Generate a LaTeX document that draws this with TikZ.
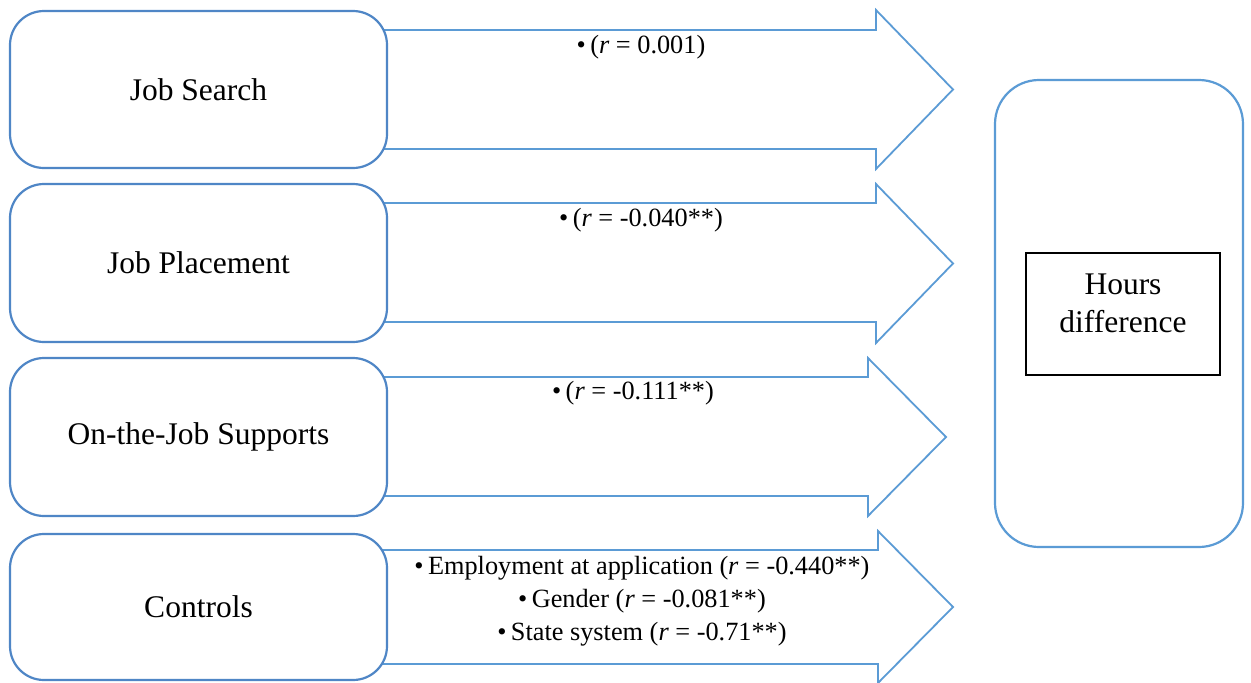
\documentclass[tikz,border=0pt]{standalone}
\usepackage{fontspec}
\setmainfont{Liberation Serif}
\definecolor{boxblue}{HTML}{4F86C6}
\definecolor{arrowblue}{HTML}{5B9BD5}
\tikzset{
  leftbox/.style={draw=boxblue, line width=2.2pt, fill=white, rounded corners=34pt,
    minimum width=377pt, inner sep=0pt, font=\fontsize{31.5}{36}\selectfont},
  blockarrow/.style={draw=arrowblue, line width=1.8pt, fill=white, line join=miter},
  arrowtext/.style={font=\fontsize{26.3}{33}\selectfont, align=center, inner sep=0pt},
  outcome/.style={draw=arrowblue, line width=2.2pt, fill=white, rounded corners=44pt,
    minimum width=248pt, minimum height=467pt},
  target/.style={draw=black, line width=1.2pt, minimum width=194pt, minimum height=122pt},
  targettext/.style={align=center, inner sep=0pt, font=\fontsize{31.5}{38}\selectfont},
}
\newcommand{\bul}{\textbullet\,}
\begin{document}
\begin{tikzpicture}[x=1pt,y=-1pt]
\useasboundingbox (0,0) rectangle (1251,683);

% block arrows: body, head base, tip
\draw[blockarrow] (380,30) -- (876,30) -- (876,10) -- (953,89.5) -- (876,169) -- (876,149) -- (380,149);
\draw[blockarrow] (380,203) -- (876,203) -- (876,184) -- (953,263.5) -- (876,343) -- (876,322) -- (380,322);
\draw[blockarrow] (380,377) -- (868,377) -- (868,358) -- (946,437) -- (868,516) -- (868,496) -- (380,496);
\draw[blockarrow] (380,550) -- (878,550) -- (878,531) -- (953,607) -- (878,683) -- (878,664) -- (380,664);

% predictor boxes
\node[leftbox, minimum height=157pt] (search) at (198.5,89.5) {Job Search};
\node[leftbox, minimum height=158pt] (placement) at (198.5,263) {Job Placement};
\node[leftbox, minimum height=158pt] (supports) at (198.5,437) {On-the-Job Supports};
\node[leftbox, minimum height=146pt] (controls) at (198.5,607) {Controls};

% correlations
\node[arrowtext] (r1) at (641,47) {\bul(\textit{r} = 0.001)};
\node[arrowtext] (r2) at (641,220) {\bul(\textit{r} = -0.040**)};
\node[arrowtext] (r3) at (633,393) {\bul(\textit{r} = -0.111**)};
\node[arrowtext] (r4) at (642,601) {\bul Employment at application (\textit{r} = -0.440**)\\
  \bul Gender (\textit{r} = -0.081**)\\
  \bul State system (\textit{r} = -0.71**)};

% outcome
\node[outcome] (outer) at (1119,313.5) {};
\node[target] (hours) at (1123,314) {};
\node[targettext] (hourslabel) at (1123,303) {Hours\\difference};
\end{tikzpicture}
\end{document}
